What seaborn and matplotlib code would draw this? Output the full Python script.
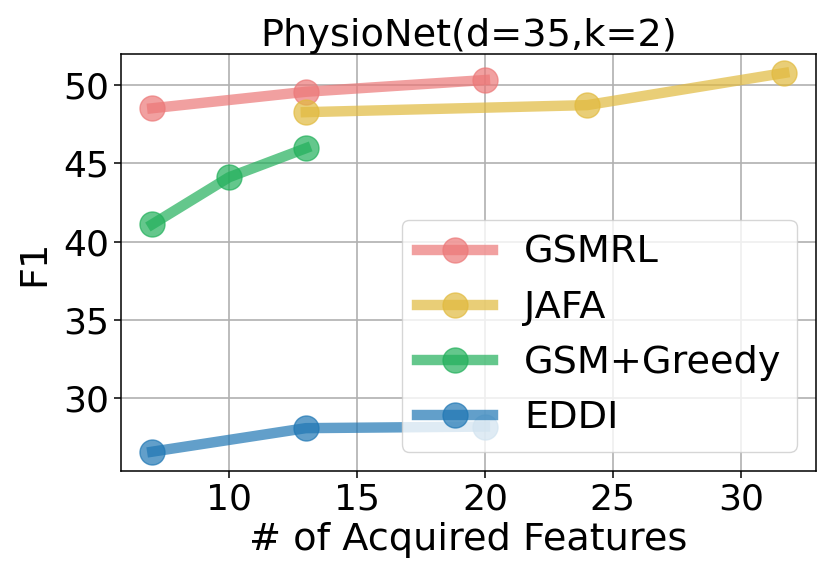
import matplotlib
matplotlib.use("Agg")
import matplotlib.pyplot as plt
from matplotlib.ticker import MultipleLocator
import seaborn as sns
import pandas as pd

sns.set_style("ticks", {"axes.grid": True, "grid.color": "#b0b0b0",
                        "axes.edgecolor": "black", "text.color": "black",
                        "axes.labelcolor": "black", "xtick.color": "black",
                        "ytick.color": "black"})
plt.rcParams["font.family"] = ["DejaVu Sans"]

methods = ["GSMRL", "JAFA", "GSM+Greedy", "EDDI"]
colors = ["#EC7878", "#E1BA3E", "#22B05B", "#1F77B4"]

gsmrl_x = [7, 13, 20]
gsmrl_f1 = [48.5, 49.55, 50.3]
jafa_x = [13, 24, 31.7]
jafa_f1 = [48.25, 48.7, 50.75]
greedy_x = [7, 10, 13]
greedy_f1 = [41.1, 44.1, 45.95]
eddi_x = [7, 13, 20]
eddi_f1 = [26.6, 28.1, 28.2]

xs = [gsmrl_x, jafa_x, greedy_x, eddi_x]
ys = [gsmrl_f1, jafa_f1, greedy_f1, eddi_f1]
df = pd.concat([pd.DataFrame({"features": x, "F1": y, "method": m})
                for m, x, y in zip(methods, xs, ys)], ignore_index=True)

fig, ax = plt.subplots(figsize=(8.3, 5.81), dpi=100)
fig.subplots_adjust(left=0.1454, right=0.983, top=0.907, bottom=0.19)

sns.lineplot(data=df, x="features", y="F1", hue="method", hue_order=methods,
             palette=dict(zip(methods, colors)), marker="o", markersize=18,
             markeredgecolor="auto", markeredgewidth=1, linewidth=7.5,
             solid_capstyle="projecting", alpha=0.7, errorbar=None,
             legend=False, ax=ax)

for side in ax.spines.values():
    side.set_linewidth(1.1)
ax.grid(True, color="#b0b0b0", linewidth=1.2)
ax.yaxis.set_major_locator(MultipleLocator(5))
ax.tick_params(labelsize=26, length=5, width=1.1, color="black",
               labelcolor="black")

ax.set_title("PhysioNet(d=35,k=2)", fontsize=27.5, color="black")
ax.set_xlabel("# of Acquired Features", fontsize=27.5, color="black")
ax.set_ylabel("F1", fontsize=27.5, color="black", labelpad=8)

leg = ax.legend(ax.lines[:4], methods, loc="lower right", fontsize=27.5,
                framealpha=0.8)
for t in leg.get_texts():
    t.set_color("black")

fig.savefig("out.png", dpi=100)
